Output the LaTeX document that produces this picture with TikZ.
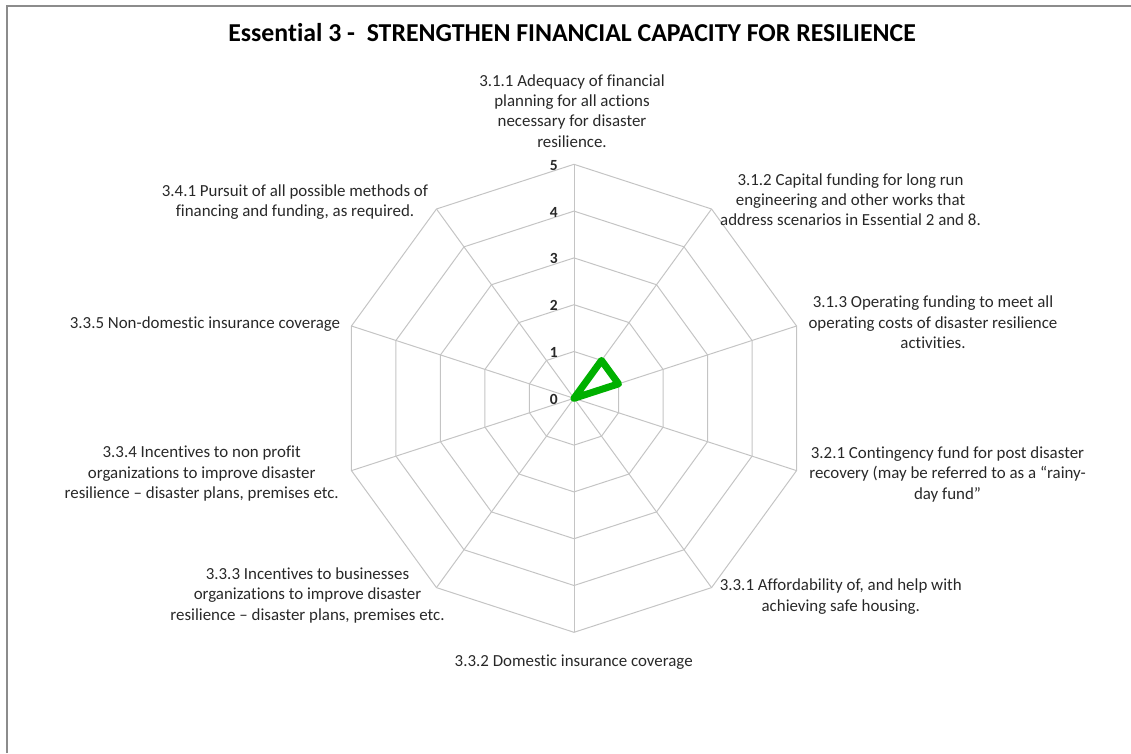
\documentclass[tikz,border=0pt]{standalone}
\usepackage{fontspec}
\setmainfont{Carlito}[Ligatures=NoCommon]
\definecolor{gridc}{RGB}{196,196,196}
\definecolor{datac}{RGB}{0,176,0}
\definecolor{txtc}{RGB}{40,40,40}
\definecolor{framec}{RGB}{140,140,140}
\begin{document}
\begin{tikzpicture}[x=1pt,y=-1pt,
  lbl/.style={font=\fontsize{16.9}{20.3}\selectfont, text=txtc, align=center, inner sep=0pt, anchor=north},
  num/.style={font=\fontsize{15.5}{18}\selectfont\bfseries, text=txtc, inner sep=0pt, anchor=east},
  ttl/.style={font=\fontsize{25.8}{30}\selectfont\bfseries, text=black, inner sep=0pt, anchor=base},
  gridline/.style={draw=gridc, line width=1pt, line join=miter},
  series/.style={draw=datac, line width=7pt, line join=round, line cap=round},
  framel/.style={draw=framec, line width=1.3pt}]
\useasboundingbox (0,0) rectangle (1131,753);
\coordinate (fb) at (7,753);
\coordinate (ftl) at (7,6);
\coordinate (ftr) at (1131,6);
\draw[framel] (fb) -- (ftl) -- (ftr);
\node[ttl] (title) at (572,41.7) {Essential 3 -\ \ STRENGTHEN FINANCIAL CAPACITY FOR RESILIENCE};
\coordinate (C) at (574,398.3);
\begin{scope}[shift={(C)}]
  \foreach \i in {1,...,5} {
    \pgfmathsetmacro\rr{\i*46.8}
    \draw[gridline] (-90:\rr) -- (-54:\rr) -- (-18:\rr) -- (18:\rr) -- (54:\rr) -- (90:\rr) -- (126:\rr) -- (162:\rr) -- (198:\rr) -- (234:\rr) -- cycle;
  }
  \coordinate (o) at (0,0);
  \foreach \k in {0,...,9} {
    \pgfmathsetmacro\aa{-90+36*\k}
    \coordinate (a\k) at (\aa:234);
    \draw[gridline] (o) -- (a\k);
  }
  \foreach \i in {0,...,5} {
    \pgfmathsetmacro\yy{-\i*46.8+1}
    \node[num] (n\i) at (-16,\yy) {\i};
  }
  \coordinate (p1) at (-54:46.8);
  \coordinate (p2) at (-18:46.8);
  \draw[series] (o) -- (p1) -- (p2) -- cycle;
\end{scope}
\node[lbl] (l311) at (572,71.8) {\strut 3.1.1 Adequacy of financial\\\strut planning for all actions\\\strut necessary for disaster\\\strut resilience.};
\node[lbl] (l312) at (850.5,170.8) {\strut 3.1.2 Capital funding for long run\\\strut engineering and other works that\\\strut address scenarios in Essential 2 and 8.};
\node[lbl] (l313) at (933,293.5) {\strut 3.1.3 Operating funding to meet all\\\strut operating costs of disaster resilience\\\strut activities.};
\node[lbl] (l321) at (947.5,444.1) {\strut 3.2.1 Contingency fund for post disaster\\\strut recovery (may be referred to as a “rainy-\\\strut day fund”};
\node[lbl] (l331) at (840.8,576.5) {\strut 3.3.1 Affordability of, and help with\\\strut achieving safe housing.};
\node[lbl] (l332) at (573.7,652.5) {\strut 3.3.2 Domestic insurance coverage};
\node[lbl] (l333) at (307.5,565.1) {\strut 3.3.3 Incentives to businesses\\\strut organizations to improve disaster\\\strut resilience – disaster plans, premises etc.};
\node[lbl] (l334) at (201.7,443.5) {\strut 3.3.4 Incentives to non profit\\\strut organizations to improve disaster\\\strut resilience – disaster plans, premises etc.};
\node[lbl] (l335) at (205,314.1) {\strut 3.3.5 Non-domestic insurance coverage};
\node[lbl] (l341) at (295,181.8) {\strut 3.4.1 Pursuit of all possible methods of\\\strut financing and funding, as required.};
\end{tikzpicture}
\end{document}
